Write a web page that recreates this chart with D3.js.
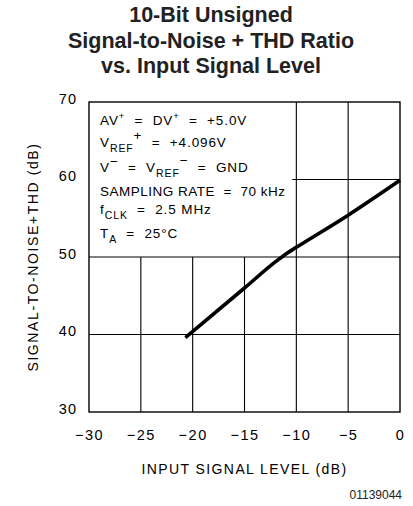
<!DOCTYPE html>
<html>
<head>
<meta charset="utf-8">
<script src="https://cdn.jsdelivr.net/npm/d3@7"></script>
<style>
html,body{margin:0;padding:0;background:#fff;}
svg{display:block;}
text{white-space:pre;}
</style>
</head>
<body>
<svg id="chart" width="413" height="506"></svg>
<script>
const titleLines = ["10-Bit Unsigned", "Signal-to-Noise + THD Ratio", "vs. Input Signal Level"];
const xTicks = [-30, -25, -20, -15, -10, -5, 0];
const yTicks = [30, 40, 50, 60, 70];
const xLevel = [-20.7, -15, -12, -11, -10, -5, 0];
const snr = [39.6, 46.0, 49.4, 50.4, 51.25, 55.4, 59.9];
const xLabel = "INPUT SIGNAL LEVEL (dB)";
const yLabel = "SIGNAL-TO-NOISE+THD (dB)";
const figId = "01139044";
const boxEdgeX = -10.4, boxEdgeY = 50;

const svg = d3.select("#chart");
const L = 89, R = 400, T = 102, B = 412;
const x = d3.scaleLinear().domain([-30, 0]).range([L, R]);
const y = d3.scaleLinear().domain([30, 70]).range([B, T]);
const strokeFont = "'Liberation Sans', Arial, sans-serif";

// title
svg.append("g").selectAll("text").data(titleLines).join("text")
  .attr("x", 211).attr("y", (d, i) => 22 + i * 25.5)
  .attr("text-anchor", "middle")
  .attr("font-family", "'Liberation Sans', Arial, sans-serif")
  .attr("font-weight", "bold").attr("font-size", 21.5)
  .attr("fill", "#222").text(d => d);

// grid
const g = svg.append("g");
g.selectAll("line.v").data(xTicks.filter(t => t > -30 && t < 0)).join("line")
  .attr("x1", d => x(d)).attr("x2", d => x(d))
  .attr("y1", d => d < boxEdgeX ? y(boxEdgeY) : T).attr("y2", B)
  .attr("stroke", "#000").attr("stroke-width", 1.1);
g.selectAll("line.h").data(yTicks.filter(t => t > 30 && t < 70)).join("line")
  .attr("y1", d => y(d)).attr("y2", d => y(d))
  .attr("x1", d => d > boxEdgeY ? x(boxEdgeX) : L).attr("x2", R)
  .attr("stroke", "#000").attr("stroke-width", 1.1);
g.append("rect").attr("x", L).attr("y", T).attr("width", R - L).attr("height", B - T)
  .attr("fill", "none").attr("stroke", "#000").attr("stroke-width", 1.4);

// axes labels
const xAxis = d3.axisBottom(x).tickValues(xTicks).tickSize(0).tickPadding(0)
  .tickFormat(d => d < 0 ? "\u2212" + Math.abs(d) : String(d));
const xa = svg.append("g").attr("transform", `translate(0,${B})`).call(xAxis);
xa.select(".domain").remove();
xa.selectAll("text").attr("dy", null).attr("y", 28).attr("font-size", 14.5)
  .attr("font-family", strokeFont).attr("fill", "#000").attr("letter-spacing", 1.5);

const yAxis = d3.axisLeft(y).tickValues(yTicks).tickSize(0).tickPadding(0);
const ya = svg.append("g").attr("transform", `translate(${L},0)`).call(yAxis);
ya.select(".domain").remove();
ya.selectAll("text").attr("x", -12).attr("dy", "0.1em").attr("font-size", 14.5)
  .attr("font-family", strokeFont).attr("fill", "#000").attr("letter-spacing", 1);

svg.append("text").attr("x", (L + R) / 2).attr("y", 474).attr("text-anchor", "middle")
  .attr("font-family", strokeFont).attr("font-size", 14).attr("letter-spacing", 1.4)
  .text(xLabel);
svg.append("text").attr("transform", `translate(38,${(T + B) / 2}) rotate(-90)`)
  .attr("text-anchor", "middle")
  .attr("font-family", strokeFont).attr("font-size", 14).attr("letter-spacing", 1.6)
  .text(yLabel);
svg.append("text").attr("x", 402).attr("y", 499).attr("text-anchor", "end")
  .attr("font-family", "'Liberation Sans', Arial, sans-serif").attr("font-size", 12)
  .attr("fill", "#222").text(figId);

// condition text box
const tb = svg.append("g").attr("font-family", strokeFont).attr("font-size", 13.5)
  .attr("letter-spacing", 0.9).attr("fill", "#000");
function addLine(yy, parts, ls) {
  const t = tb.append("text").attr("x", 100).attr("y", yy);
  if (ls !== undefined) t.attr("letter-spacing", ls);
  parts.forEach(p => {
    const s = t.append("tspan").text(p[0]);
    if (p[1] === "sup") s.attr("dy", -6).attr("font-size", 9.5);
    if (p[1] === "sub") s.attr("dy", 5).attr("font-size", 10.5);
    if (p[1] === "base") s.attr("dy", p[2]);
  });
}
addLine(125, [["AV"], ["+", "sup"], ["  =  DV", "base", 6], ["+", "sup"], ["  =  +5.0V", "base", 6]]);
addLine(147, [["V"], ["REF", "sub"], ["+", "base", -12], ["  =  +4.096V", "base", 7]]);
addLine(172, [["V"], ["\u2212", "base", -6], ["  =  V", "base", 6], ["REF", "sub"], ["\u2212", "base", -12], ["  =  GND", "base", 7]]);
addLine(196, [["SAMPLING RATE  =  70 kHz"]], 0.5);
addLine(214, [["f"], ["CLK", "sub"], ["  =  2.5 MHz", "base", -5]]);
addLine(238, [["T"], ["A", "sub"], ["  =  25\u00B0C", "base", -5]]);

// data line
const line = d3.line().x(d => x(d[0])).y(d => y(d[1])).curve(d3.curveMonotoneX);
svg.append("path").datum(xLevel.map((v, i) => [v, snr[i]]))
  .attr("d", line).attr("fill", "none").attr("stroke", "#000")
  .attr("stroke-width", 3.6).attr("stroke-linejoin", "round");
</script>
</body>
</html>
